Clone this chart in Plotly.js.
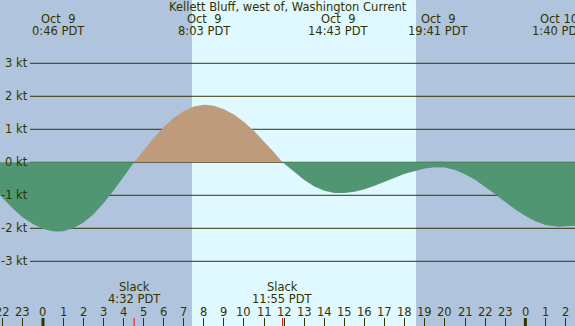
<!DOCTYPE html>
<html>
<head>
<meta charset="utf-8">
<script src="https://cdn.plot.ly/plotly-3.0.1.min.js"></script>
<style>html,body{margin:0;padding:0;overflow:hidden;}#chart{width:575px;height:326px;}</style>
</head>
<body>
<div id="chart"></div>
<script>
// Hours relative to Oct 9 00:00 PDT, current speed in knots
const hours = [-2.14,-2,-1.5,-1,-0.5,0,0.5,0.77,1,1.5,2,2.5,3,3.5,4,4.53,5,5.5,6,6.5,7,7.5,8,8.05,8.5,9,9.5,10,10.5,11,11.5,11.92,12,12.5,13,13.5,14,14.5,14.72,15,15.5,16,16.5,17,17.5,18,18.5,19,19.5,19.68,20,20.5,21,21.5,22,22.5,23,23.5,24,24.5,25,25.5,25.67,26,26.47];
const speed = [-1.00,-1.09,-1.40,-1.67,-1.87,-2.02,-2.09,-2.10,-2.09,-2.00,-1.83,-1.58,-1.25,-0.87,-0.46,0,0.36,0.73,1.06,1.34,1.55,1.69,1.74,1.74,1.71,1.61,1.45,1.22,0.95,0.64,0.30,0,-0.04,-0.30,-0.54,-0.73,-0.86,-0.93,-0.94,-0.93,-0.89,-0.82,-0.71,-0.60,-0.47,-0.35,-0.26,-0.19,-0.15,-0.15,-0.16,-0.23,-0.36,-0.53,-0.74,-0.97,-1.20,-1.43,-1.63,-1.79,-1.90,-1.95,-1.95,-1.94,-1.92];

const titleText = 'Kellett Bluff, west of, Washington Current';
const eventHours = [0.767, 8.05, 14.717, 19.683, 25.667];
const eventDates = ['Oct\u00a0\u00a09','Oct\u00a0\u00a09','Oct\u00a0\u00a09','Oct\u00a0\u00a09','Oct\u00a010'];
const eventTimes = ['0:46 PDT','8:03 PDT','14:43 PDT','19:41 PDT','1:40 PDT'];
const slackHours = [4.533, 11.917];
const slackTimes = ['4:32 PDT','11:55 PDT'];
const sunrise = 7.41, sunset = 18.56;
const midnights = [0, 24];
const yLevels = [3,2,1,0,-1,-2,-3];
const hourTicks = [-2,-1,0,1,2,3,4,5,6,7,8,9,10,11,12,13,14,15,16,17,18,19,20,21,22,23,24,25,26];
const hourLabels = ['22','23','0','1','2','3','4','5','6','7','8','9','10','11','12','13','14','15','16','17','18','19','20','21','22','23','0','1','2'];

const NIGHT = '#b0c4de', DAY = '#e0f8ff', GREEN = '#519672', TAN = '#be9b7a', INK = '#333300';
const FONT = 'DejaVu Sans';
const FS = 11.5;

const posX = [], posY = [], negX = [], negY = [];
hours.forEach((h, i) => {
  if (speed[i] >= 0) { posX.push(h); posY.push(speed[i]); }
  if (speed[i] <= 0) { negX.push(h); negY.push(speed[i]); }
});

const traces = [
  {x: negX, y: negY, type: 'scatter', mode: 'lines', fill: 'tozeroy', fillcolor: GREEN, line: {width: 0, color: GREEN}, hoverinfo: 'skip'},
  {x: posX, y: posY, type: 'scatter', mode: 'lines', fill: 'tozeroy', fillcolor: TAN, line: {width: 0, color: TAN}, hoverinfo: 'skip'}
];

const shapes = [];
shapes.push({type: 'rect', xref: 'x', yref: 'paper', x0: sunrise, x1: sunset, y0: 0, y1: 1, fillcolor: DAY, line: {width: 0}, layer: 'below'});
yLevels.forEach(v => shapes.push({type: 'line', xref: 'paper', yref: 'y', x0: 30/575, x1: 1, y0: v, y1: v, line: {color: INK, width: 1}, layer: 'below'}));
midnights.forEach(h => shapes.push({type: 'line', xref: 'x', yref: 'paper', x0: h, x1: h, y0: 0, y1: 8/326, line: {color: INK, width: 3}}));
slackHours.forEach(h => shapes.push({type: 'line', xref: 'x', yref: 'paper', x0: h, x1: h, y0: 0, y1: 8/326, line: {color: '#ff0000', width: 1}}));

const ann = [];
const txt = (text, x, xref, y, xanchor) => ({text, x, xref, y, yref: 'paper', xanchor: xanchor || 'center', yanchor: 'middle', showarrow: false, font: {family: FONT, size: FS, color: INK}});
ann.push(txt(titleText, 0.5, 'paper', 1 - 7/326));
eventHours.forEach((h, i) => {
  ann.push(txt(eventDates[i], h, 'x', 1 - 19/326));
  ann.push(txt(eventTimes[i], h, 'x', 1 - 31/326));
});
slackHours.forEach((h, i) => {
  ann.push(txt('Slack', h, 'x', 1 - 287/326));
  ann.push(txt(slackTimes[i], h, 'x', 1 - 299/326));
});
hourTicks.forEach((h, i) => ann.push(txt(hourLabels[i], h, 'x', 1 - 312/326)));
yLevels.forEach(v => ann.push({text: v + ' kt', x: 30/575, xref: 'paper', y: v, yref: 'y', xanchor: 'right', yanchor: 'middle', showarrow: false, font: {family: FONT, size: FS, color: INK}}));

const layout = {
  width: 575, height: 326,
  margin: {l: 0, r: 0, t: 0, b: 0, pad: 0},
  paper_bgcolor: NIGHT, plot_bgcolor: NIGHT,
  showlegend: false,
  xaxis: {range: [-2.139, 26.468], showgrid: false, zeroline: false, showline: false,
          tickmode: 'array', tickvals: hourTicks, showticklabels: false,
          ticks: 'inside', ticklen: 8, tickwidth: 1, tickcolor: INK, fixedrange: true},
  yaxis: {range: [-4.961, 4.918], showgrid: false, zeroline: false, showline: false, showticklabels: false, ticks: '', fixedrange: true},
  shapes: shapes,
  annotations: ann
};

Plotly.newPlot('chart', traces, layout, {displayModeBar: false, staticPlot: true});
</script>
</body>
</html>
